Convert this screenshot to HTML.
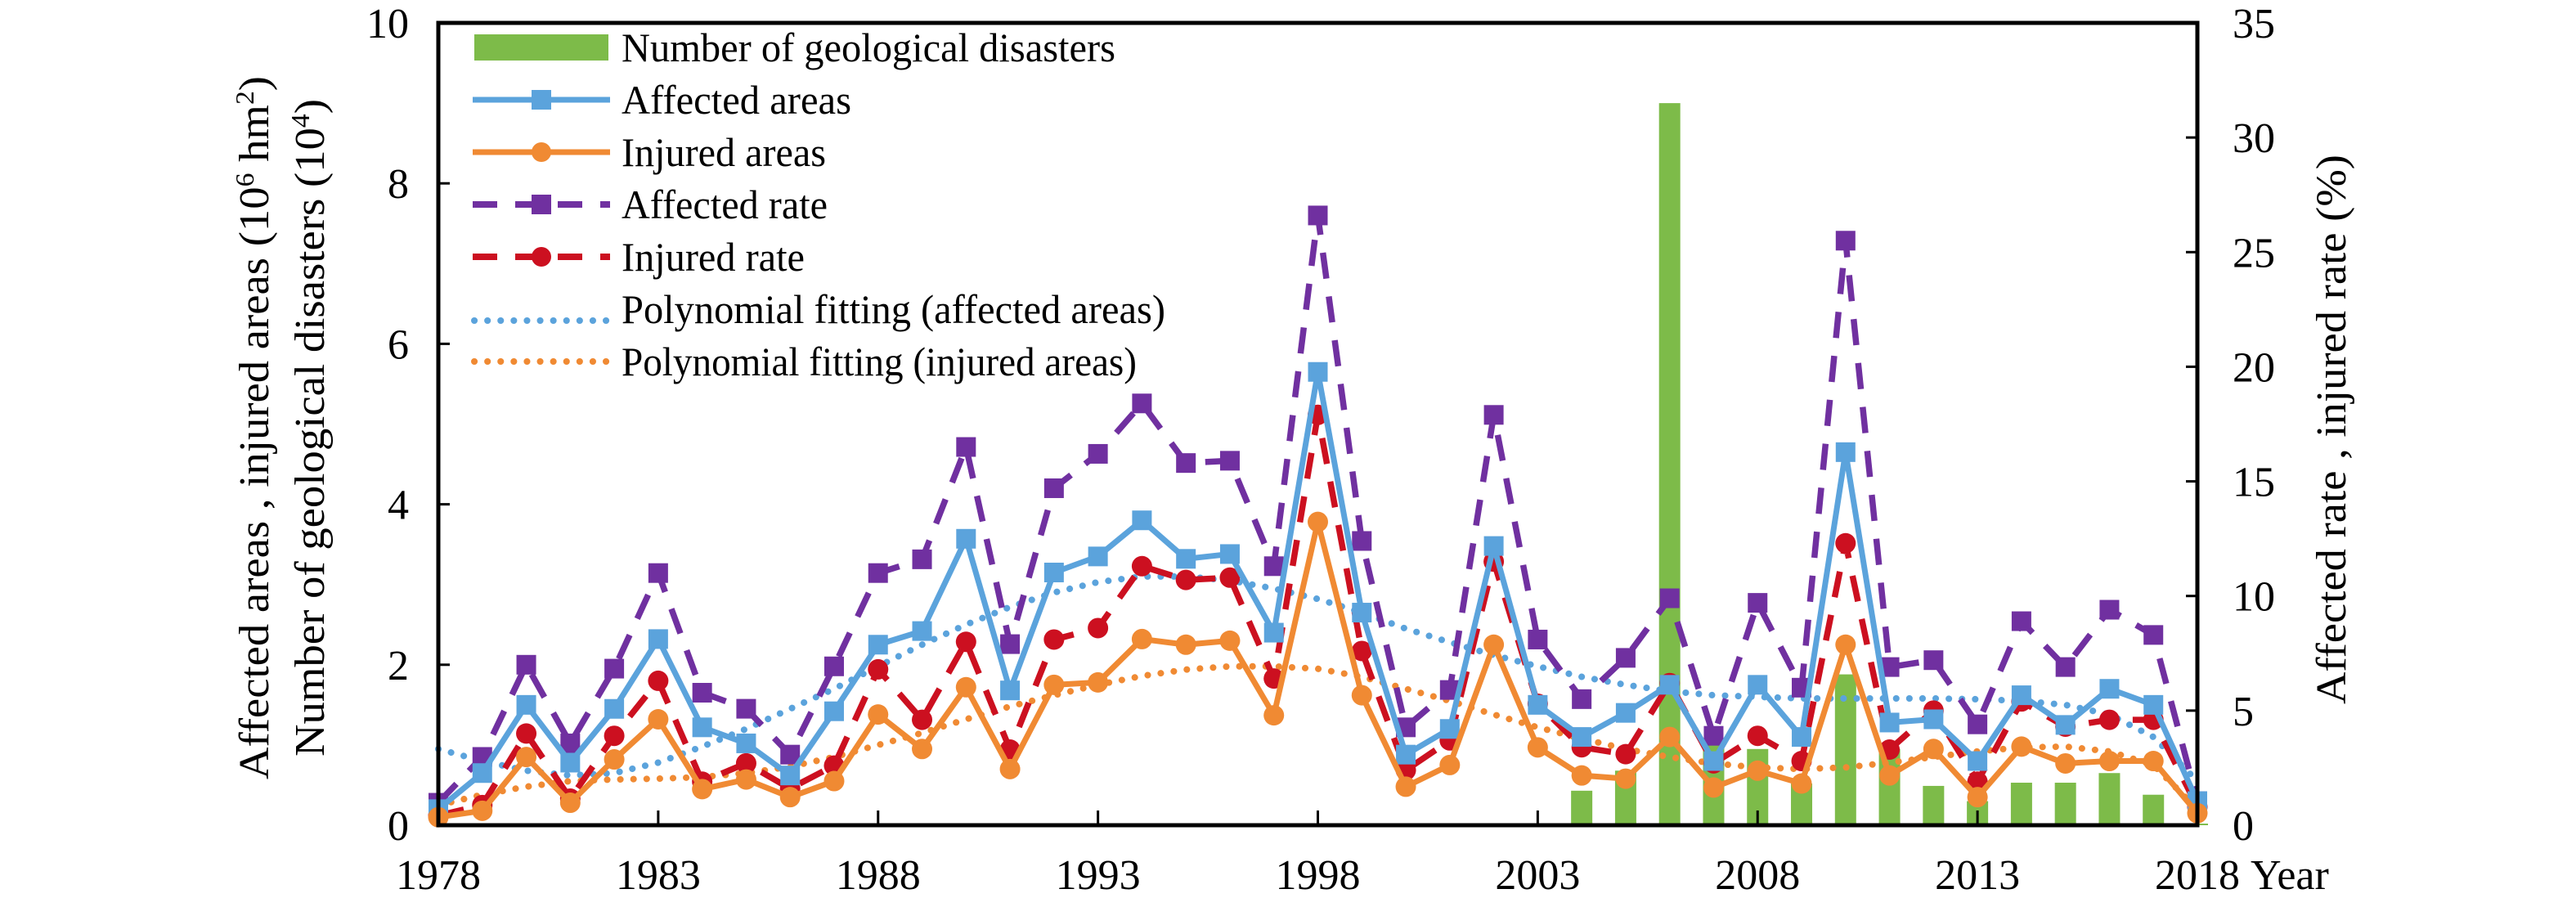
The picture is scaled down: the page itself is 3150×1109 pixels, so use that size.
<!DOCTYPE html>
<html><head><meta charset="utf-8"><style>
html,body{margin:0;padding:0;background:#fff;}
svg, svg text{font-family:"Liberation Serif","Times New Roman",serif;}
</style></head><body>
<svg id="chart" width="3150" height="1104" viewBox="0 0 3150 1104" xmlns="http://www.w3.org/2000/svg" font-family="Liberation Serif, serif">
<g id="bars"></g>
<g id="fits"></g>
<g id="series"></g>
<rect x="536" y="28" width="2151" height="981" fill="none" stroke="#000" stroke-width="5"/>
<g id="axes" font-size="52" fill="#000"></g>
<text transform="translate(328,523) rotate(-90)" text-anchor="middle" font-size="52" textLength="860" lengthAdjust="spacingAndGlyphs">Affected areas , injured areas (10<tspan font-size="32" dy="-18">6</tspan><tspan dy="18"> hm</tspan><tspan font-size="32" dy="-18">2</tspan><tspan dy="18">)</tspan></text>
<text transform="translate(396,523) rotate(-90)" text-anchor="middle" font-size="52" textLength="804" lengthAdjust="spacingAndGlyphs">Number of geological disasters (10<tspan font-size="32" dy="-18">4</tspan><tspan dy="18">)</tspan></text>
<text transform="translate(2868,525) rotate(-90)" text-anchor="middle" font-size="52" textLength="672" lengthAdjust="spacingAndGlyphs">Affected rate , injured rate (%)</text>
<text x="2752" y="1087" font-size="52">Year</text>
<g id="legend" font-size="50"></g>
</svg>
<script>
const years = [];
for (let y = 1978; y <= 2018; y++) years.push(y);
const barYears = [2004,2005,2006,2007,2008,2009,2010,2011,2012,2013,2014,2015,2016,2017,2018];
const disasters = [0.43,0.68,9.0,1.0,0.95,0.52,1.88,0.95,0.49,0.3,0.53,0.53,0.65,0.38,0.02];
const affectedAreas = [0.2,0.65,1.5,0.78,1.45,2.32,1.22,1.02,0.62,1.42,2.25,2.42,3.57,1.68,3.15,3.35,3.8,3.32,3.38,2.4,5.65,2.65,0.88,1.2,3.48,1.5,1.1,1.4,1.75,0.8,1.75,1.1,4.65,1.28,1.32,0.8,1.62,1.25,1.7,1.5,0.3];
const injuredAreas = [0.1,0.18,0.85,0.28,0.82,1.32,0.45,0.57,0.35,0.55,1.38,0.95,1.72,0.7,1.75,1.78,2.32,2.25,2.3,1.37,3.78,1.62,0.48,0.75,2.25,0.97,0.62,0.58,1.1,0.47,0.68,0.52,2.25,0.62,0.95,0.35,0.98,0.77,0.8,0.8,0.15];
const affectedRate = [0.98,2.98,7.0,3.57,6.83,11.0,5.78,5.08,3.08,6.93,11.0,11.6,16.5,7.9,14.7,16.2,18.4,15.8,15.9,11.3,26.6,12.4,4.27,5.9,17.9,8.1,5.5,7.3,9.9,3.9,9.7,6.0,25.5,6.9,7.2,4.4,8.9,6.9,9.4,8.3,1.05];
const injuredRate = [0.42,0.88,4.0,1.16,3.9,6.3,1.9,2.7,1.6,2.6,6.8,4.6,8.0,3.3,8.1,8.6,11.3,10.7,10.8,6.4,17.9,7.6,2.4,3.7,11.5,5.3,3.4,3.1,6.2,2.7,3.9,2.8,12.3,3.3,5.0,1.9,5.4,4.3,4.6,4.6,0.8];
const fitAffected = [0.95,0.8,0.68,0.62,0.65,0.78,0.98,1.2,1.45,1.7,1.98,2.25,2.5,2.72,2.9,3.03,3.1,3.1,3.05,2.95,2.82,2.65,2.45,2.28,2.12,1.98,1.85,1.75,1.67,1.62,1.6,1.58,1.58,1.58,1.58,1.57,1.55,1.5,1.38,1.1,0.55];
const fitInjured = [0.25,0.38,0.48,0.55,0.57,0.58,0.6,0.65,0.73,0.85,1.0,1.15,1.32,1.48,1.62,1.75,1.86,1.94,1.98,1.98,1.95,1.85,1.7,1.55,1.38,1.22,1.08,0.95,0.85,0.77,0.72,0.7,0.72,0.78,0.85,0.92,0.97,0.98,0.92,0.75,0.2];
const leftTicks = [0,2,4,6,8,10];
const rightTicks = [0,5,10,15,20,25,30,35];
const xTicks = [1978,1983,1988,1993,1998,2003,2008,2013,2018];

const NS = "http://www.w3.org/2000/svg";
const X0=536,X1=2687,Y0=1009,Y1=28;
const xs = y => X0 + (y-1978)/(2018-1978)*(X1-X0);
const yL = v => Y0 - v/10*(Y0-Y1);
const yR = v => Y0 - v/35*(Y0-Y1);
function mk(tag, attrs, parent){const e=document.createElementNS(NS,tag);for(const k in attrs)e.setAttribute(k,attrs[k]);parent.appendChild(e);return e;}

const bars=document.getElementById('bars');
barYears.forEach((yr,i)=>{
  const r=mk('rect',{x:xs(yr)-13,y:yL(disasters[i]),width:26,height:Y0-yL(disasters[i]),fill:'#7dbb49'},bars);
  
  
});

const fits=document.getElementById('fits');
function fitLine(vals,color,name){
  const p=mk('polyline',{points:vals.map((v,i)=>xs(years[i])+','+yL(v)).join(' '),fill:'none',stroke:color,'stroke-width':8,'stroke-dasharray':'0.1 16','stroke-linecap':'round'},fits);
  
  
}
fitLine(fitAffected,'#5ba3dc','fit-affected-areas');
fitLine(fitInjured,'#f08a33','fit-injured-areas');

const ser=document.getElementById('series');
function series(vals,scale,color,dash,marker,name){
  const g=mk('g',{},ser);
  
  
  const a={points:vals.map((v,i)=>xs(years[i])+','+scale(v)).join(' '),fill:'none',stroke:color,'stroke-width':dash?7.5:7,'stroke-linejoin':'round'};
  if(dash)a['stroke-dasharray']=dash;
  mk('polyline',a,g);
  vals.forEach((v,i)=>{
    const cx=xs(years[i]),cy=scale(v);
    let m;
    if(marker==='sq') m=mk('rect',{x:cx-12,y:cy-12,width:24,height:24,fill:color},g);
    else m=mk('circle',{cx:cx,cy:cy,r:12.5,fill:color},g);
    
    
  });
}
series(affectedRate,yR,'#7030a0','32 22','sq','affected-rate');
series(injuredRate,yR,'#cc1020','32 22','ci','injured-rate');
series(affectedAreas,yL,'#5ba3dc',null,'sq','affected-areas');
series(injuredAreas,yL,'#f08a33',null,'ci','injured-areas');

const axes=document.getElementById('axes');
leftTicks.forEach(t=>{
  const tx=mk('text',{x:500,y:yL(t)+18,'text-anchor':'end'},axes);tx.textContent=t;
  
  
  if(t>0&&t<10)mk('line',{x1:X0,x2:X0+14,y1:yL(t),y2:yL(t),stroke:'#000','stroke-width':3},axes);
});
rightTicks.forEach(t=>{
  const tx=mk('text',{x:2730,y:yR(t)+18},axes);tx.textContent=t;
  
  
  if(t>0&&t<35)mk('line',{x1:X1-14,x2:X1,y1:yR(t),y2:yR(t),stroke:'#000','stroke-width':3},axes);
});
xTicks.forEach(t=>{
  const tx=mk('text',{x:xs(t),y:1087,'text-anchor':'middle'},axes);tx.textContent=t;
  
  
  if(t>1978&&t<2018)mk('line',{x1:xs(t),x2:xs(t),y1:Y0,y2:Y0-18,stroke:'#000','stroke-width':3},axes);
});

const lg=document.getElementById('legend');
const items=[
 ['Number of geological disasters',604,'bar'],
 ['Affected areas',281,'blue'],
 ['Injured areas',250,'orange'],
 ['Affected rate',252,'purple'],
 ['Injured rate',224,'red'],
 ['Polynomial fitting (affected areas)',665,'fitb'],
 ['Polynomial fitting (injured areas)',630,'fito']
];
items.forEach((it,i)=>{
  const cy=58+i*64;
  const g=mk('g',{},lg);
  
  
  const k=it[2];
  if(k==='bar') mk('rect',{x:580,y:cy-16,width:164,height:32,fill:'#7dbb49'},g);
  else if(k==='blue'||k==='orange'){
    const c=k==='blue'?'#5ba3dc':'#f08a33';
    mk('line',{x1:578,x2:746,y1:cy,y2:cy,stroke:c,'stroke-width':7},g);
    if(k==='blue')mk('rect',{x:650,y:cy-12,width:24,height:24,fill:c},g);else mk('circle',{cx:662,cy:cy,r:12,fill:c},g);
  } else if(k==='purple'||k==='red'){
    const c=k==='purple'?'#7030a0':'#cc1020';
    mk('line',{x1:578,x2:746,y1:cy,y2:cy,stroke:c,'stroke-width':8,'stroke-dasharray':'30 22'},g);
    if(k==='purple')mk('rect',{x:650,y:cy-12,width:24,height:24,fill:c},g);else mk('circle',{cx:662,cy:cy,r:12,fill:c},g);
  } else {
    const c=k==='fitb'?'#5ba3dc':'#f08a33';
    mk('line',{x1:580,x2:746,y1:cy+(k==='fitb'?14:0),y2:cy+(k==='fitb'?14:0),stroke:c,'stroke-width':8,'stroke-dasharray':'0.1 16','stroke-linecap':'round'},g);
  }
  const t=mk('text',{x:760,y:cy+17,textLength:it[1],lengthAdjust:'spacingAndGlyphs'},g);
  t.textContent=it[0];
});
</script>
</body></html>
